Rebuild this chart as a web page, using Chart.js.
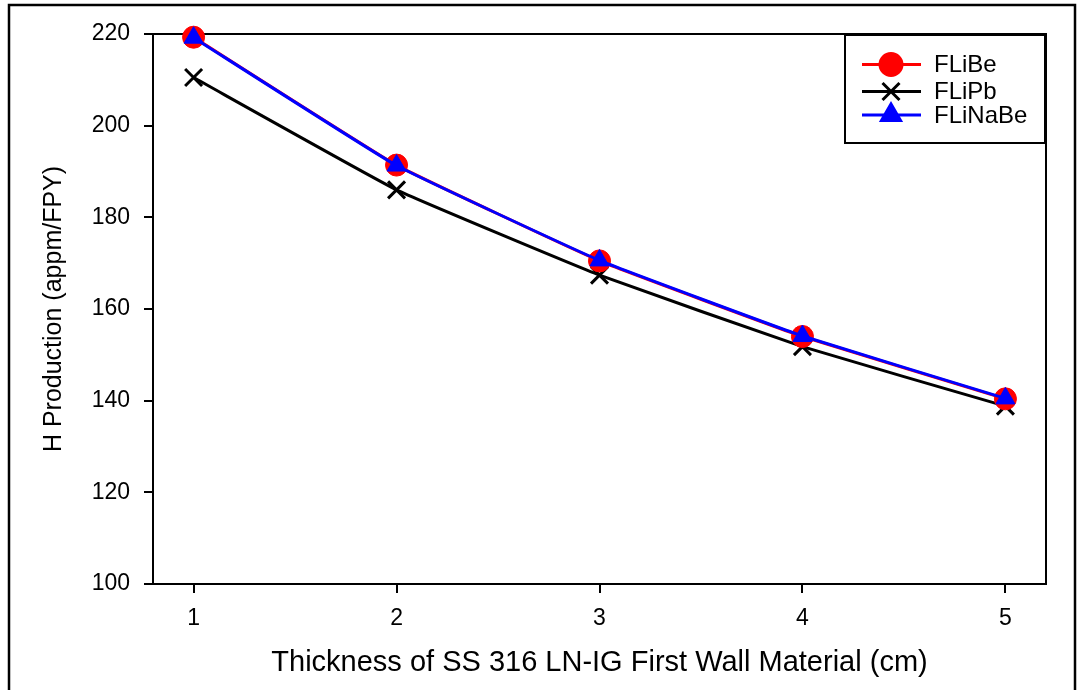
<!DOCTYPE html>
<html lang="en">
<head>
    <meta charset="UTF-8">
    <title>H Production vs First Wall Thickness</title>
    <script src="https://cdn.jsdelivr.net/npm/chart.js"></script>
    <style>
        body {
            margin: 0;
            padding: 0;
            background-color: #ffffff;
        }
        .chart-box {
            width: 1086px;
            height: 690px;
        }
    </style>
</head>
<body>
    <div class="chart-box">
        <canvas id="hChart"></canvas>
    </div>

    <script>
        // data
        const thickness = [1, 2, 3, 4, 5];
        const fliBe = [219.3, 191.4, 170.5, 154.0, 140.4];
        const fliPb = [210.5, 186.0, 167.4, 151.8, 138.8];
        const fliNaBe = [219.2, 191.3, 170.6, 154.1, 140.5];
        const yTicks = [100, 120, 140, 160, 180, 200, 220];

        const fontFamily = "'Liberation Sans', Arial, sans-serif";

        function toPoints(values) {
            return thickness.map((t, i) => ({ x: t, y: values[i] }));
        }

        // white page with the outer black frame
        const framePlugin = {
            id: 'frame',
            beforeDraw(chart) {
                const ctx = chart.ctx;
                ctx.save();
                ctx.fillStyle = '#ffffff';
                ctx.fillRect(0, 0, chart.width, chart.height);
                ctx.strokeStyle = '#000000';
                ctx.lineWidth = 2.5;
                ctx.strokeRect(9, 5, 1066, 700);
                ctx.restore();
            },
            beforeDatasetsDraw(chart) {
                // top and right sides of the plot box
                const { left, right, top, bottom } = chart.chartArea;
                const ctx = chart.ctx;
                ctx.save();
                ctx.strokeStyle = '#000000';
                ctx.lineWidth = 2;
                ctx.beginPath();
                ctx.moveTo(left, top);
                ctx.lineTo(right, top);
                ctx.lineTo(right, bottom);
                ctx.stroke();
                ctx.restore();
            }
        };

        // legend box with a line through each marker
        const legendPlugin = {
            id: 'boxLegend',
            afterDraw(chart) {
                const ctx = chart.ctx;
                const boxLeft = 845, boxTop = 35, boxRight = 1045, boxBottom = 143;
                const rows = [64.5, 91.5, 115];
                ctx.save();
                ctx.fillStyle = '#ffffff';
                ctx.fillRect(boxLeft, boxTop, boxRight - boxLeft, boxBottom - boxTop);
                ctx.strokeStyle = '#000000';
                ctx.lineWidth = 2;
                ctx.strokeRect(boxLeft, boxTop, boxRight - boxLeft, boxBottom - boxTop);

                chart.data.datasets.forEach((ds, i) => {
                    const y = rows[i];
                    ctx.strokeStyle = ds.borderColor;
                    ctx.lineWidth = ds.borderWidth;
                    ctx.beginPath();
                    ctx.moveTo(862, y);
                    ctx.lineTo(921, y);
                    ctx.stroke();

                    ctx.fillStyle = ds.pointBackgroundColor;
                    ctx.strokeStyle = ds.pointBorderColor;
                    Chart.helpers.drawPoint(ctx, {
                        pointStyle: ds.pointStyle,
                        radius: ds.pointRadius,
                        rotation: 0,
                        borderWidth: ds.pointBorderWidth
                    }, 891, y);

                    ctx.fillStyle = '#000000';
                    ctx.font = '24px ' + fontFamily;
                    ctx.textAlign = 'left';
                    ctx.textBaseline = 'middle';
                    ctx.fillText(ds.label, 934, y + 1);
                });
                ctx.restore();
            }
        };

        const ctx = document.getElementById('hChart').getContext('2d');

        const hChart = new Chart(ctx, {
            type: 'line',
            data: {
                datasets: [
                    {
                        label: 'FLiBe',
                        data: toPoints(fliBe),
                        borderColor: '#ff0000',
                        borderWidth: 3,
                        pointStyle: 'circle',
                        pointRadius: 11,
                        pointBackgroundColor: '#ff0000',
                        pointBorderColor: '#ff0000',
                        pointBorderWidth: 1,
                        tension: 0.1,
                        clip: false,
                        order: 1
                    },
                    {
                        label: 'FLiPb',
                        data: toPoints(fliPb),
                        borderColor: '#000000',
                        borderWidth: 3,
                        pointStyle: 'crossRot',
                        pointRadius: 12,
                        pointBackgroundColor: '#000000',
                        pointBorderColor: '#000000',
                        pointBorderWidth: 3,
                        tension: 0.1,
                        clip: false,
                        order: 2
                    },
                    {
                        label: 'FLiNaBe',
                        data: toPoints(fliNaBe),
                        borderColor: '#0000ff',
                        borderWidth: 3,
                        pointStyle: 'triangle',
                        pointRadius: 11,
                        pointBackgroundColor: '#0000ff',
                        pointBorderColor: '#0000ff',
                        pointBorderWidth: 1,
                        tension: 0.1,
                        clip: false,
                        order: 0
                    }
                ]
            },
            options: {
                responsive: true,
                maintainAspectRatio: false,
                animation: false,
                layout: {
                    padding: { top: 34, right: 40, left: 0, bottom: 0 }
                },
                plugins: {
                    legend: { display: false },
                    tooltip: { enabled: false }
                },
                scales: {
                    x: {
                        type: 'linear',
                        min: 0.8,
                        max: 5.2,
                        afterFit(scale) { scale.height = 106; },
                        border: { display: true, color: '#000000', width: 2 },
                        grid: {
                            drawOnChartArea: false,
                            drawTicks: true,
                            tickLength: 9,
                            color: '#000000',
                            lineWidth: 2
                        },
                        ticks: {
                            stepSize: 1,
                            includeBounds: false,
                            padding: 12,
                            color: '#000000',
                            font: { family: fontFamily, size: 23 }
                        },
                        title: {
                            display: true,
                            text: 'Thickness of SS 316 LN-IG First Wall Material (cm)',
                            color: '#000000',
                            font: { family: fontFamily, size: 29 },
                            padding: { top: 0, bottom: 10 }
                        }
                    },
                    y: {
                        min: yTicks[0],
                        max: yTicks[yTicks.length - 1],
                        afterFit(scale) { scale.width = 153; },
                        afterBuildTicks(scale) {
                            scale.ticks = yTicks.map(v => ({ value: v }));
                        },
                        border: { display: true, color: '#000000', width: 2 },
                        grid: {
                            drawOnChartArea: false,
                            drawTicks: true,
                            tickLength: 9,
                            color: '#000000',
                            lineWidth: 2
                        },
                        ticks: {
                            padding: 14,
                            color: '#000000',
                            font: { family: fontFamily, size: 23 }
                        },
                        title: {
                            display: true,
                            text: 'H Production (appm/FPY)',
                            color: '#000000',
                            font: { family: fontFamily, size: 25 },
                            padding: { top: 39, bottom: 0 }
                        }
                    }
                }
            },
            plugins: [framePlugin, legendPlugin]
        });
    </script>
</body>
</html>
